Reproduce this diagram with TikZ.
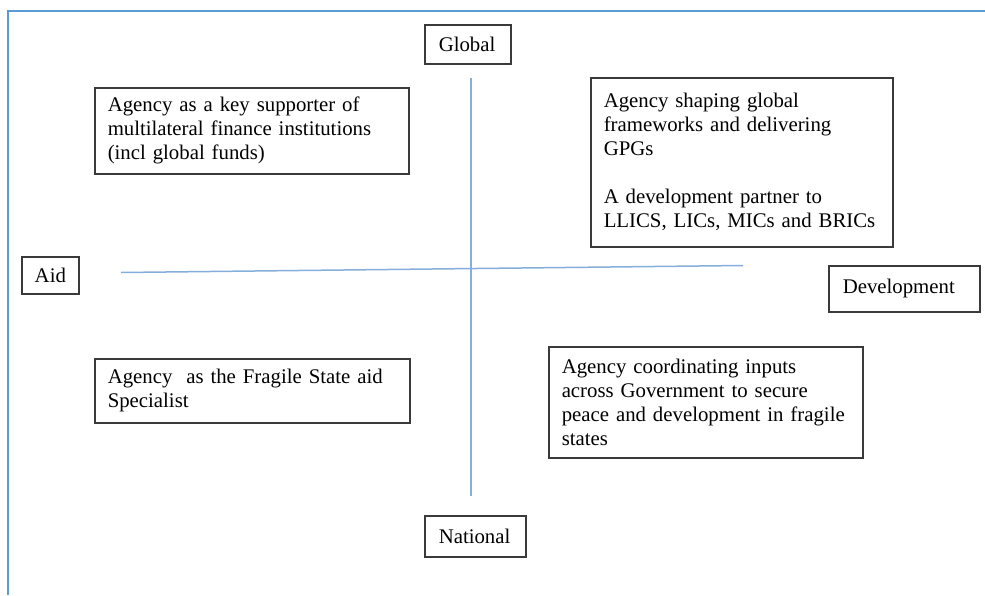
\documentclass[tikz,border=0pt]{standalone}
\usepackage{fontspec}
\setmainfont{Liberation Serif}
\definecolor{framecol}{HTML}{5B9BD5}
\definecolor{axiscol}{HTML}{86AEDD}
\definecolor{boxcol}{HTML}{3A3A3A}
\begin{document}
\begin{tikzpicture}[x=0.5pt, y=-0.5pt,
  every node/.style={font=\fontsize{10.4}{12}\selectfont},
  quadbox/.style={draw=boxcol, line width=0.75pt, anchor=north west,
    align=left, inner xsep=6.5pt, inner ysep=0pt},
  axislabel/.style={draw=boxcol, line width=0.75pt, anchor=north west,
    align=left, inner xsep=7pt, inner ysep=0pt},
  axisline/.style={draw=axiscol, line width=0.75pt}]
  \useasboundingbox (0,0) rectangle (985,595);
  \fill[white] (0,0) rectangle (985,595);

  % page frame (top and left edges)
  \draw[framecol, line width=1pt] (8,595) -- (8,11) -- (985,11);

  % axes
  \coordinate (west) at (121,272.5);
  \coordinate (east) at (743,265.5);
  \coordinate (north) at (471,78);
  \coordinate (south) at (471,496);
  \draw[axisline] (west) -- (east);
  \draw[axisline] (north) -- (south);

  % axis end labels
  \node[axislabel, text width=29pt, minimum height=19.5pt] (global) at (424,24) {Global};
  \node[axislabel, text width=15.5pt, minimum height=18.5pt, inner xsep=6.5pt] (aid) at (21,256) {Aid};
  \node[axislabel, text width=61.5pt, minimum height=23pt] (development) at (828,265) {Development};
  \node[axislabel, text width=36.5pt, minimum height=20.5pt] (national) at (424,515) {National};

  % quadrant statements
  \node[quadbox, text width=144pt, minimum height=43pt] (topleft) at (94,87)
    {Agency as a key supporter of\\multilateral finance institutions\\(incl global funds)};
  \node[quadbox, text width=138pt, minimum height=84.5pt] (topright) at (590,77)
    {Agency shaping global\\frameworks and delivering\\GPGs\\[12pt]A development partner to\\LLICS, LICs, MICs and BRICs};
  \node[quadbox, text width=144.5pt, minimum height=32pt] (bottomleft) at (94,358)
    {Agency\ \ as the Fragile State aid\\Specialist};
  \node[quadbox, text width=144pt, minimum height=55.5pt] (bottomright) at (548,346)
    {Agency coordinating inputs\\across Government to secure\\peace and development in fragile\\states};
\end{tikzpicture}
\end{document}
